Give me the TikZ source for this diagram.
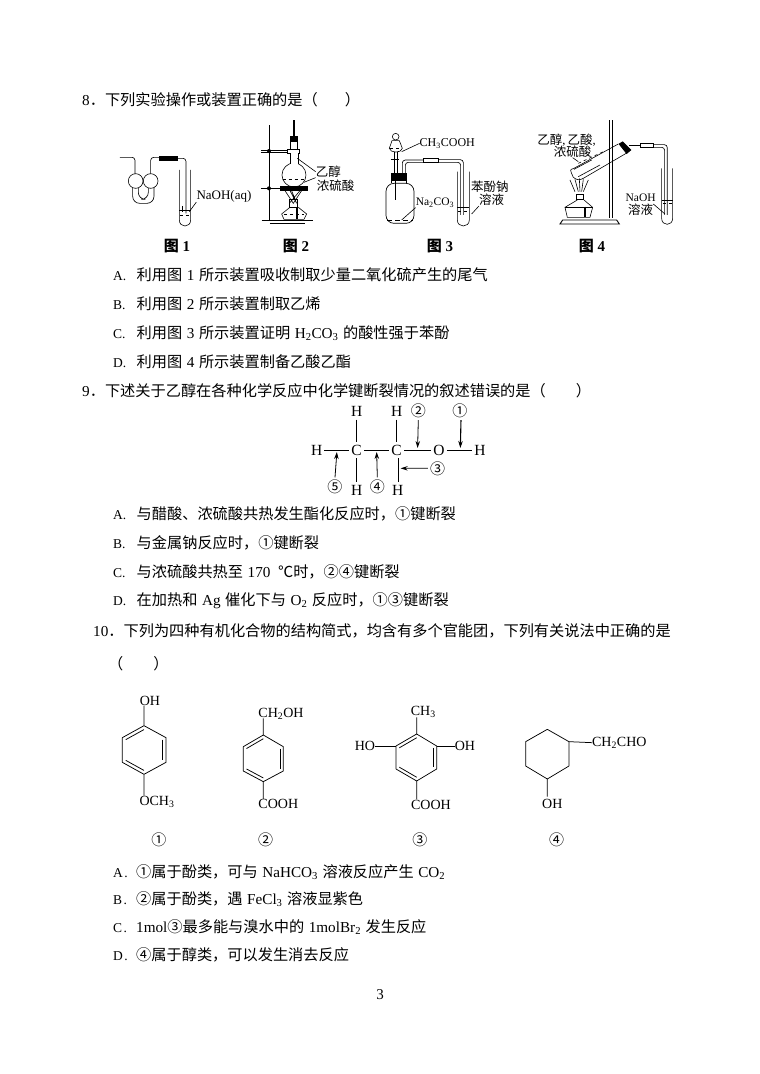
\documentclass[tikz,border=0pt]{standalone}
\usepackage{fontspec}
\setmainfont{Liberation Serif}
\newfontfamily\cjk{Noto Sans CJK SC}
\usetikzlibrary{calc,arrows.meta}
\newcommand{\Z}[1]{{\cjk #1}}
\newcommand{\sbs}[1]{\textsubscript{#1}}
\newcommand{\Sp}{\hspace{0.3em}}
\newcommand{\optA}[1]{\makebox[23.5pt][l]{{\fontsize{13.5}{13.5}\selectfont #1.}}}
\newcommand{\optB}[1]{\makebox[23pt][l]{{\fontsize{13.5}{13.5}\selectfont #1\hspace{1.5pt}.}}}
\tikzset{
  qtxt/.style={anchor=west,inner sep=0pt,font=\fontsize{15.2}{16}\selectfont},
  figcap/.style={inner sep=0pt,font=\fontsize{15}{16}\selectfont\bfseries},
  lab/.style={inner sep=0pt,font=\fontsize{12}{13}\selectfont},
  clab/.style={inner sep=0pt,font=\cjk\fontsize{12.5}{13}\selectfont},
  atom/.style={inner sep=0pt,font=\fontsize{14}{15}\selectfont},
  batom/.style={inner sep=0pt,font=\fontsize{15.5}{16}\selectfont},
  num/.style={inner sep=0pt,font=\cjk\fontsize{15}{15}\selectfont},
  bond/.style={line width=0.75pt,black},
  glass/.style={line width=0.65pt,black,rounded corners=3pt},
  thin0/.style={line width=0.6pt,black},
  rubber/.style={fill=black,draw=black},
  arr/.style={line width=0.8pt,-{Stealth[length=7pt,width=4.5pt]}},
}
\newcommand{\hexa}[7]{%
  \coordinate (#1t) at #2; \coordinate (#1ur) at #3; \coordinate (#1lr) at #4;
  \coordinate (#1b) at #5; \coordinate (#1ll) at #6; \coordinate (#1ul) at #7;
  \coordinate (#1c) at ($(#1t)!0.5!(#1b)$);
  \draw[bond,line join=round] (#1t)--(#1ur)--(#1lr)--(#1b)--(#1ll)--(#1ul)--cycle;}
\newcommand{\dbl}[3]{\draw[bond] ($(#1)!0.16!(#3)$)--($(#2)!0.16!(#3)$);}
\newcommand{\ttube}[4]{\draw[thin0] (#1,#3)--(#1,#4) .. controls (#1,#4+24) and (#2,#4+24) .. (#2,#4)--(#2,#3);}
\begin{document}
\begin{tikzpicture}[x=1pt,y=-1pt]
\useasboundingbox (0,0) rectangle (760,1074);
\fill[white] (0,0) rectangle (760,1074);
% ---- text ----
\node[qtxt] (q8) at (82,100) {8\Z{．下列实验操作或装置正确的是（\hspace{27pt}）}};
\node[qtxt] (a8) at (113,275) {\optA{A}\Z{利用图}\Sp 1\Sp\Z{所示装置吸收制取少量二氧化硫产生的尾气}};
\node[qtxt] (b8) at (113,304) {\optA{B}\Z{利用图}\Sp 2\Sp\Z{所示装置制取乙烯}};
\node[qtxt] (c8) at (113,333) {\optA{C}\Z{利用图}\Sp 3\Sp\Z{所示装置证明}\Sp H\sbs{2}CO\sbs{3}\Sp\Z{的酸性强于苯酚}};
\node[qtxt] (d8) at (113,362) {\optA{D}\Z{利用图}\Sp 4\Sp\Z{所示装置制备乙酸乙酯}};
\node[qtxt] (q9) at (82,391) {9\Z{．下述关于乙醇在各种化学反应中化学键断裂情况的叙述错误的是（\hspace{30pt}）}};
\node[qtxt] (a9) at (113,514) {\optA{A}\Z{与醋酸、浓硫酸共热发生酯化反应时，①键断裂}};
\node[qtxt] (b9) at (113,543) {\optA{B}\Z{与金属钠反应时，①键断裂}};
\node[qtxt] (c9) at (113,572) {\optA{C}\Z{与浓硫酸共热至}\Sp 170\hspace{0.5em}\Z{℃时，②④键断裂}};
\node[qtxt] (d9) at (113,601) {\optA{D}\Z{在加热和}\Sp Ag\Sp\Z{催化下与}\Sp O\sbs{2}\Sp\Z{反应时，①③键断裂}};
\node[qtxt] (q10) at (93,631) {10\Z{．下列为四种有机化合物的结构简式，均含有多个官能团，下列有关说法中正确的是}};
\node[qtxt] (q10b) at (108,664) {\Z{（\hspace{30pt}）}};
\node[qtxt] (a10) at (113,872) {\optB{A}\Z{①属于酚类，可与}\Sp NaHCO\sbs{3}\Sp\Z{溶液反应产生}\Sp CO\sbs{2}};
\node[qtxt] (b10) at (113,899) {\optB{B}\Z{②属于酚类，遇}\Sp FeCl\sbs{3}\Sp\Z{溶液显紫色}};
\node[qtxt] (c10) at (113,927) {\optB{C}1mol\Z{③最多能与溴水中的}\Sp 1molBr\sbs{2}\Sp\Z{发生反应}};
\node[qtxt] (d10) at (113,955) {\optB{D}\Z{④属于醇类，可以发生消去反应}};
\node[inner sep=0pt,font=\fontsize{15}{15}\selectfont] (pg) at (380,995) {3};
\node[figcap] (f1) at (177,246) {\Z{图} 1};
\node[figcap] (f2) at (296,246) {\Z{图} 2};
\node[figcap] (f3) at (440,246) {\Z{图} 3};
\node[figcap] (f4) at (592,246) {\Z{图} 4};
% ---- figures 1 and 2 ----
\begin{scope}[shift={(100,120)},scale=0.3333]
 % fig 1
 \draw[glass] (60,112)--(105,112)--(105,165);
 \draw[glass] (182,112)--(152,112)--(152,165);
 \draw[glass,rounded corners=7pt] (98,200)--(98,250)--(162,250)--(162,200);
 \draw[glass,rounded corners=7pt] (115,200)--(115,238)--(145,238)--(145,200);
 \draw[thin0,fill=white] (107,183) circle[radius=22];
 \draw[thin0,fill=white] (152,183) circle[radius=22];
 \draw[glass] (230,115)--(258,115)--(258,280);
 \draw[rubber] (178,108) rectangle (232,122);
 \ttube{238}{272}{150}{300}
 \draw[thin0] (238,270)--(272,270);
 \draw[thin0,dashed] (240,285)--(270,285);
 \draw[line width=1.2pt] (248,258)--(248,275);
 \coordinate (l1a) at (268,275);
 \node[lab,font=\fontsize{13}{14}\selectfont] (n1) at (372,228) {NaOH(aq)};
 \draw[thin0] (l1a)--(n1.south west);
 % fig 2
 \draw[line width=0.8pt] (507,15)--(507,300);
 \draw[line width=1.6pt] (485,302)--(640,302);
 \draw[thin0] (510,310)--(615,310);
 \draw[line width=1.6pt] (582,0)--(582,55);
 \draw[rubber] (570,50) rectangle (592,65);
 \draw[thin0] (570,65)--(570,88) (592,65)--(592,88);
 \draw[thin0] (483,90)--(562,90) (483,97)--(562,97);
 \draw[thin0,fill=white] (562,88) rectangle (598,100);
 \fill (507,93) circle[radius=6];
 \draw[thin0,fill=white] (582,165) circle[radius=36];
 \fill[white] (570,100) rectangle (595,135);
 \draw[thin0] (570,100)--(570,131) (595,100)--(595,131);
 \draw[thin0,dashed] (548,178)--(616,178);
 \draw[line width=1.2pt] (483,205)--(545,205);
 \fill (507,205) circle[radius=6];
 \draw[rubber] (540,200) rectangle (622,211);
 \draw[thin0] (555,212)--(580,250)--(605,212) (570,212)--(590,250)--(575,212) (600,212)--(568,250);
 \draw[line width=1pt] (568,240) rectangle (592,262);
 \draw[thin0] (570,262)--(545,282)--(552,298)--(612,298)--(620,282)--(595,262);
 \draw[thin0,dashed] (552,284)--(612,284);
 \draw[line width=2pt] (590,262)--(590,296);
 \node[clab] (n2a) at (685,155) {乙醇};
 \node[clab] (n2b) at (707,198) {浓硫酸};
 \coordinate (l2a) at (592,115);
 \coordinate (l2b) at (612,187);
 \draw[thin0] (l2a)--(n2a.west);
 \draw[thin0] (l2b)--(n2a.south west);
\end{scope}
% ---- figures 3 and 4 ----
\begin{scope}[shift={(370,120)},scale=0.3333]
 % fig 3
 \draw[thin0] (77,50) circle[radius=10];
 \draw[thin0] (66,62)--(88,62)--(97,85) .. controls (95,100) and (60,100) .. (58,85)--cycle;
 \draw[thin0,dashed] (60,85)--(95,85);
 \draw[thin0] (72,97)--(72,120) (82,97)--(82,120);
 \draw[line width=1pt] (62,118)--(88,118);
 \draw[thin0] (72,120)--(72,160) (82,120)--(82,160);
 \draw[thin0] (77,182)--(77,240);
 \node[lab] (n3a) at (232,70) {CH\sbs{3}COOH};
 \coordinate (l3a) at (95,95);
 \draw[thin0] (l3a)--(n3a.west);
 \draw[glass] (97,160)--(97,120)--(160,120);
 \draw[glass] (106,160)--(106,127)--(160,127);
 \draw[thin0,fill=white] (160,115) rectangle (205,127);
 \draw[glass] (205,119)--(280,119)--(280,285);
 \draw[glass] (205,127)--(272,127)--(272,285);
 \draw[rubber] (65,160) rectangle (108,182);
 \draw[thin0] (65,182)--(65,190) (110,182)--(110,190);
 \draw[line width=0.7pt,rounded corners=8pt] (48,310)--(48,190)--(132,190)--(132,310)--cycle;
 \draw[thin0,dashed,dash pattern=on 5pt off 3pt] (52,300)--(128,300);
 \ttube{262}{298}{155}{300}
 \draw[thin0] (262,262)--(298,262);
 \draw[thin0,dashed] (265,275)--(295,275);
 \node[lab,font=\fontsize{11.5}{12}\selectfont] (n3b) at (195,248) {Na\sbs{2}CO\sbs{3}};
 \coordinate (l3b) at (95,300);
 \draw[thin0] (l3b)--(n3b.south west);
 \node[clab] (n3c) at (360,200) {苯酚钠};
 \node[clab] (n3d) at (365,240) {溶液};
 \coordinate (l3c) at (305,282);
 \draw[thin0] (l3c)--(n3d.south west);
 % fig 4
 \draw[line width=0.7pt] (718,0)--(718,295) (726,0)--(726,295);
 \draw[line width=0.9pt] (570,312)--(578,300)--(740,300)--(748,312)--cycle;
 \draw[thin0] (610,172) .. controls (598,145) and (600,150) .. (612,145) -- (745,72);
 \draw[thin0] (610,172) .. controls (622,182) and (630,180) .. (640,175) -- (772,98);
 \draw[thin0,dashed] (625,130)--(700,95);
 \draw[thin0] (612,148)--(665,120) (625,170)--(690,135);
 \draw[rubber,line width=1pt] (748,72)--(758,66)--(782,90)--(770,100)--cycle;
 \draw[glass] (778,76)--(810,76);
 \draw[thin0,fill=white] (810,70) rectangle (850,82);
 \draw[glass] (850,74)--(892,74)--(892,285);
 \draw[glass] (850,82)--(884,82)--(884,285);
 \ttube{875}{908}{145}{295}
 \draw[thin0] (875,240)--(908,240);
 \draw[thin0,dashed] (878,250)--(905,250);
 \draw[thin0] (600,180)--(615,215) (615,178)--(625,215) (640,178)--(635,215) (655,180)--(640,215) (628,175)--(630,215);
 \draw[line width=1pt] (620,225) rectangle (642,240);
 \draw[thin0] (622,240)--(585,262)--(592,292)--(660,292)--(668,262)--(642,240);
 \draw[thin0] (585,262)--(668,262);
 \draw[line width=2pt] (645,260)--(645,290);
 \node[clab] (n4a) at (590,60) {乙醇{\rmfamily ,\,}乙酸{\rmfamily ,}};
 \node[clab] (n4b) at (608,95) {浓硫酸};
 \node[lab,font=\fontsize{11.5}{12}\selectfont] (n4c) at (812,232) {NaOH};
 \node[clab] (n4d) at (812,270) {溶液};
 \coordinate (l4a) at (625,125);
 \draw[thin0] (l4a)--(n4b.south);
 \coordinate (l4c) at (885,282);
 \draw[thin0] (l4c)--(n4d.north east);
\end{scope}
% ---- ethanol bonds ----
\begin{scope}[shift={(290,395)},scale=0.3333]
 \node[batom] (H1) at (80,165) {H};
 \node[batom] (C1) at (200,165) {C};
 \node[batom] (C2) at (320,165) {C};
 \node[batom] (O1) at (447,165) {O};
 \node[batom] (H2) at (570,165) {H};
 \node[batom] (H3) at (200,50) {H};
 \node[batom] (H4) at (320,50) {H};
 \node[batom] (H5) at (200,285) {H};
 \node[batom] (H6) at (323,285) {H};
 \node[num] (m2) at (385,48) {②};
 \node[num] (m1) at (510,48) {①};
 \node[num] (m3) at (443,222) {③};
 \node[num] (m4) at (262,275) {④};
 \node[num] (m5) at (135,275) {⑤};
 \draw[bond] ($(H1.east)+(6,0)$) -- ($(C1.west)+(-6,0)$);
 \draw[bond] ($(C1.east)+(6,0)$) -- ($(C2.west)+(-6,0)$);
 \draw[bond] ($(C2.east)+(6,0)$) -- ($(O1.west)+(-6,0)$);
 \draw[bond] ($(O1.east)+(6,0)$) -- ($(H2.west)+(-6,0)$);
 \draw[bond] ($(H3.south)+(0,8)$) -- ($(C1.north)+(0,-8)$);
 \draw[bond] ($(H4.south)+(0,8)$) -- ($(C2.north)+(0,-8)$);
 \draw[bond] ($(C1.south)+(0,8)$) -- ($(H5.north)+(0,-8)$);
 \draw[bond] ($(C2.south)+(5,8)$) -- ($(H6.north)+(2,-8)$);
 \draw[arr,line width=1.1pt] ($(m1.south)+(3,6)$) -- ($(O1.east)!0.53!(H2.west)+(0,-6)$);
 \draw[arr] ($(m2.south)+(0,6)$) -- ($(C2.east)!0.5!(O1.west)+(0,-6)$);
 \draw[arr] ($(m3.west)+(-6,-2)$) -- (332,220);
 \draw[arr] ($(m4.north)+(0,-6)$) -- ($(C1.east)!0.5!(C2.west)+(0,6)$);
 \draw[arr] ($(m5.north)+(0,-6)$) -- ($(H1.east)!0.5!(C1.west)+(0,6)$);
\end{scope}
% ---- molecules 1,2 ----
\begin{scope}[shift={(100,685)},scale=0.3333]
 \hexa{a}{(132,122)}{(198,158)}{(198,232)}{(132,268)}{(67,232)}{(67,158)}
 \dbl{aul}{at}{ac}\dbl{aur}{alr}{ac}\dbl{ab}{all}{ac}
 \node[atom] (a1) at (150,48) {OH};
 \node[atom,anchor=west] (a2) at (118,350) {OCH\sbs{3}};
 \draw[bond] (at)--(132,62);
 \draw[bond] (ab)--(132,332);
 \node[num] (am) at (177,465) {①};
 \hexa{b}{(490,150)}{(550,185)}{(550,258)}{(490,290)}{(430,258)}{(430,185)}
 \dbl{bul}{bt}{bc}\dbl{bur}{blr}{bc}\dbl{bb}{bll}{bc}
 \node[atom] (b1) at (543,87) {CH\sbs{2}OH};
 \node[atom] (b2) at (535,358) {COOH};
 \draw[bond] (bt)--(490,100);
 \draw[bond] (bb)--(490,342);
 \node[num] (bm) at (497,465) {②};
\end{scope}
% ---- molecules 3,4 ----
\begin{scope}[shift={(340,685)},scale=0.3333]
 \hexa{c}{(230,147)}{(290,183)}{(290,252)}{(230,288)}{(168,252)}{(168,183)}
 \dbl{cul}{ct}{cc}\dbl{cur}{clr}{cc}\dbl{cb}{cll}{cc}
 \node[atom] (c1) at (250,80) {CH\sbs{3}};
 \node[atom] (c2) at (75,183) {HO};
 \node[atom] (c3) at (375,183) {OH};
 \node[atom] (c4) at (273,360) {COOH};
 \draw[bond] (ct)--(230,97);
 \draw[bond] (cul)--(c2.east);
 \draw[bond] (cur)--(c3.west);
 \draw[bond] (cb)--(230,343);
 \node[num] (cm) at (240,465) {③};
 \hexa{d}{(622,133)}{(687,170)}{(687,243)}{(622,282)}{(557,243)}{(557,170)}
 \node[atom] (d1) at (838,173) {CH\sbs{2}CHO};
 \node[atom] (d2) at (637,357) {OH};
 \draw[bond] (dur)--(d1.west);
 \draw[bond] (db)--(622,335);
 \node[num] (dm) at (650,465) {④};
\end{scope}
\end{tikzpicture}
\end{document}
